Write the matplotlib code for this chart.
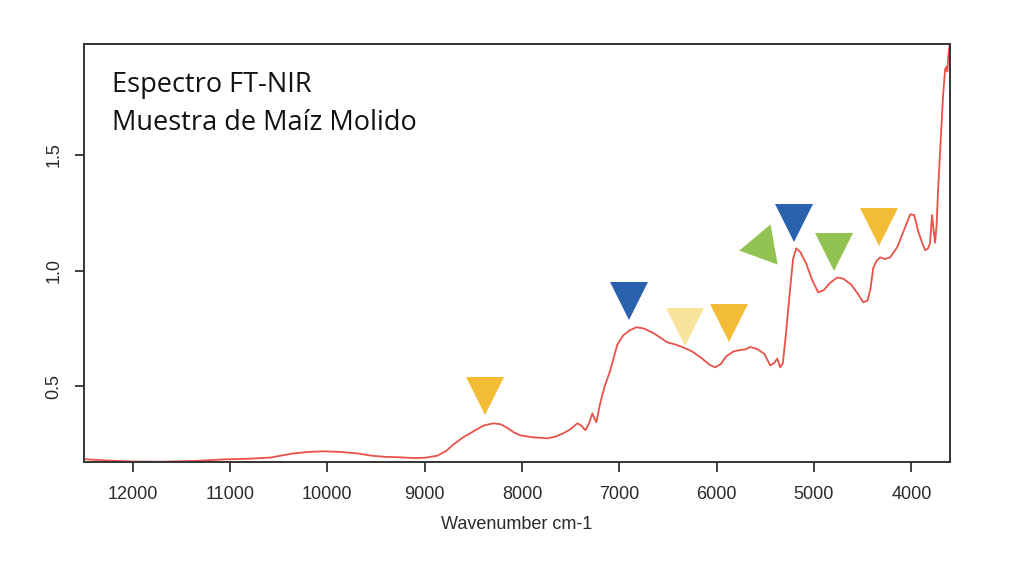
import numpy as np
import matplotlib.pyplot as plt

# FT-NIR spectrum (wavenumber cm-1, absorbance)
wavenumber = [12490, 12300, 12000, 11700, 11333, 11066, 10800, 10585, 10349,
              10200, 10041, 9850, 9692, 9546, 9400, 9251, 9115, 9000, 8870,
              8780, 8700, 8602, 8500, 8398, 8294, 8220, 8150, 8080, 8016,
              7900, 7740, 7650, 7575, 7500, 7431, 7390, 7349, 7310, 7277,
              7255, 7236, 7195, 7150, 7092, 7021, 6960, 6900, 6826, 6750,
              6650, 6507, 6420, 6343, 6250, 6150, 6070, 6014, 5960, 5900,
              5830, 5778, 5700, 5655, 5580, 5510, 5450, 5410, 5378, 5347,
              5320, 5290, 5250, 5215, 5183, 5140, 5080, 5020, 4957, 4900,
              4840, 4762, 4700, 4620, 4550, 4495, 4450, 4420, 4392, 4360,
              4320, 4270, 4218, 4146, 4080, 4012, 3970, 3930, 3889, 3858,
              3830, 3808, 3787, 3770, 3756, 3740, 3725, 3700, 3675, 3653,
              3640, 3630, 3620, 3605]
absorbance = [0.185, 0.180, 0.175, 0.174, 0.178, 0.184, 0.187, 0.192, 0.210,
              0.216, 0.219, 0.216, 0.210, 0.200, 0.195, 0.193, 0.190, 0.191, 0.200,
              0.220, 0.250, 0.280, 0.305, 0.330, 0.340, 0.336, 0.320, 0.300, 0.288,
              0.280, 0.275, 0.283, 0.297, 0.315, 0.340, 0.330, 0.310, 0.340, 0.383,
              0.360, 0.345, 0.430, 0.500, 0.570, 0.680, 0.720, 0.740, 0.755, 0.750,
              0.730, 0.690, 0.680, 0.668, 0.650, 0.620, 0.592, 0.582, 0.595, 0.630,
              0.650, 0.655, 0.660, 0.670, 0.660, 0.640, 0.590, 0.600, 0.620, 0.582,
              0.600, 0.720, 0.900, 1.050, 1.096, 1.080, 1.030, 0.960, 0.906, 0.915,
              0.945, 0.970, 0.965, 0.940, 0.900, 0.863, 0.870, 0.920, 1.010, 1.040,
              1.057, 1.050, 1.057, 1.100, 1.170, 1.243, 1.240, 1.170, 1.120, 1.088,
              1.095, 1.118, 1.240, 1.170, 1.120, 1.200, 1.350, 1.550, 1.750, 1.870,
              1.880, 1.860, 1.930, 1.980]

# band markers (downward triangles): centre wavenumber, absorbance, colour
band_x = [8376, 6897, 6322, 5871, 5203, 4793, 4331]
band_y = [0.459, 0.867, 0.755, 0.774, 1.204, 1.081, 1.187]
band_colors = ['#F2BC35', '#2A62B0', '#F9E29A', '#F2BC35', '#2A62B0', '#92C352', '#F2BC35']
# the one green triangle that points to the left
left_x = 5532
left_y = 1.106

title_lines = ['Espectro FT-NIR', 'Muestra de Maíz Molido']

fig = plt.figure(figsize=(10.24, 5.76), dpi=100)
ax = fig.add_axes([0.082, 0.198, 0.846, 0.726])

ax.plot(wavenumber, absorbance, color='#E8524A', lw=1.3, solid_joinstyle='round')

for x, y, c in zip(band_x, band_y, band_colors):
    ax.plot(x, y, marker='v', markersize=28, color=c, markeredgewidth=0, linestyle='none')

# equilateral triangle, rotated so the tip points left (a little down)
ax.plot(left_x, left_y, marker=(3, 0, 100), markersize=34, color='#92C352',
        markeredgewidth=0, linestyle='none')

ax.set_xlim(12500, 3600)
ax.set_ylim(0.173, 1.98)
ax.set_xticks([12000, 11000, 10000, 9000, 8000, 7000, 6000, 5000, 4000])
ax.set_yticks([0.5, 1.0, 1.5])

for s in ax.spines.values():
    s.set_color('#333333')
    s.set_linewidth(1.4)

ax.tick_params(axis='x', length=7, width=1.3, color='#333333', pad=10,
               labelsize=13, labelcolor='#2a2a2a')
ax.tick_params(axis='y', length=6.5, width=1.3, color='#333333', pad=9,
               labelsize=13, labelcolor='#2a2a2a')
for lab in ax.get_yticklabels():
    lab.set_rotation(90)
    lab.set_va('center')
for lab in ax.get_xticklabels() + ax.get_yticklabels():
    lab.set_family('Liberation Sans')

ax.set_xlabel('Wavenumber cm-1', family='Liberation Sans', fontsize=13,
              color='#2a2a2a', labelpad=9.5)

# two title lines, baselines placed separately
fig.text(0.1094, 1 - 92 / 576, title_lines[0], family='Open Sans', fontsize=19.5,
         va='baseline', ha='left', color='#111111')
fig.text(0.1094, 1 - 130 / 576, title_lines[1], family='Open Sans', fontsize=19.5,
         va='baseline', ha='left', color='#111111')

fig.savefig('out.png', dpi=100)
